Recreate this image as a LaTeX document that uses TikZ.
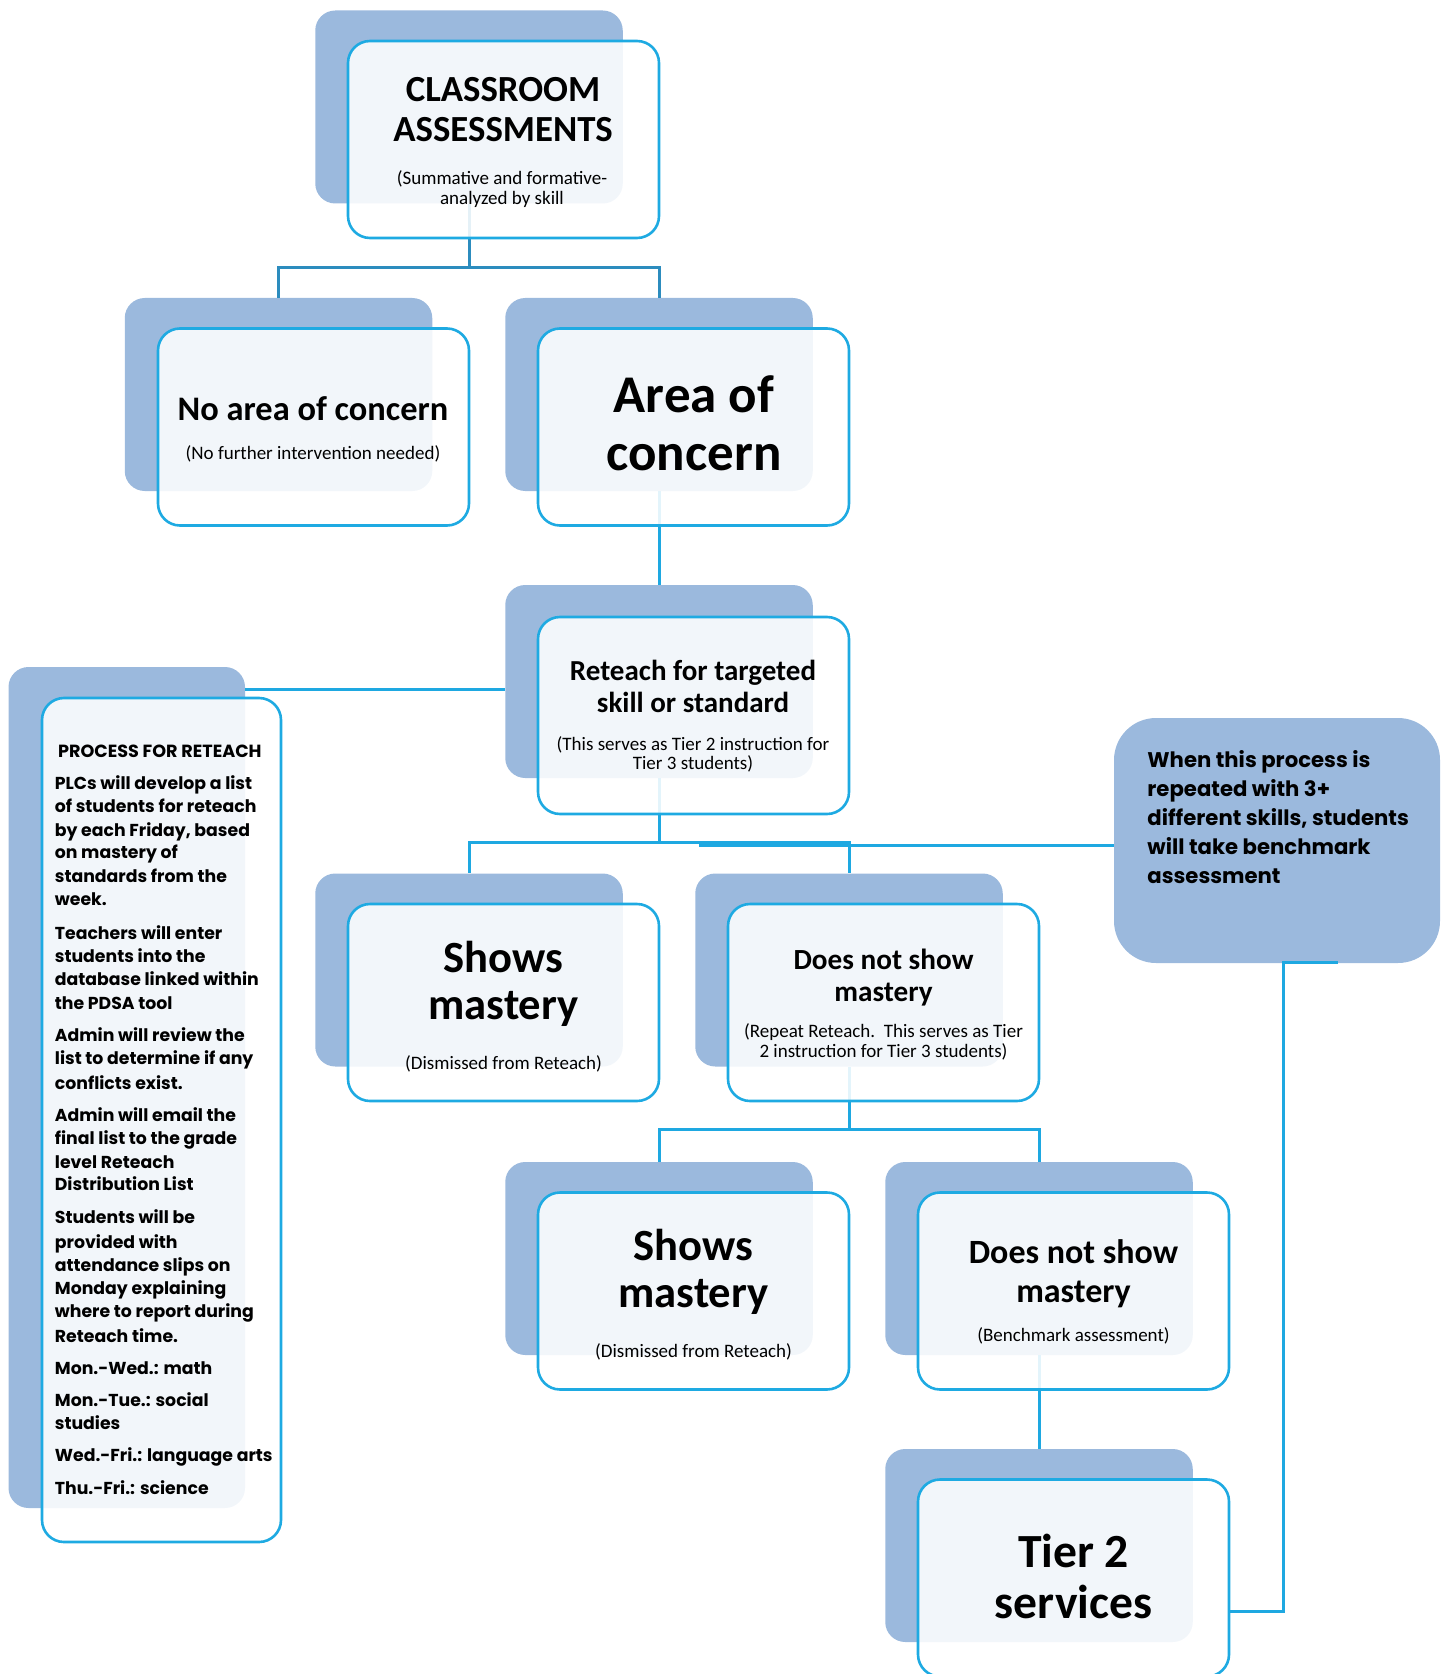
\documentclass[tikz,border=0pt]{standalone}
\usepackage{fontspec}
\newfontfamily\carl{Carlito}
\newfontfamily\goth{Poppins}
\definecolor{backblue}{RGB}{155,185,221}
\definecolor{frontblue}{RGB}{30,170,226}
\definecolor{linedark}{RGB}{44,140,190}
\definecolor{linebright}{RGB}{30,168,225}
\begin{document}
\begin{tikzpicture}[x=0.5pt,y=-0.5pt,
  backbox/.style={rectangle, rounded corners=10pt, fill=backblue, minimum width=153.75pt, minimum height=96.5pt, inner sep=0pt},
  frontbox/.style={rectangle, rounded corners=11pt, fill=white, fill opacity=0.88, draw=frontblue, line width=1.3pt, minimum width=155.5pt, minimum height=98.5pt, inner sep=0pt},
  conn/.style={draw=linebright, line width=1.5pt},
  conndark/.style={draw=linedark, line width=1.5pt},
  lbl/.style={anchor=base, inner sep=0pt, font=\carl\bfseries\fontsize{#1}{#1}\selectfont},
  sub/.style={anchor=base, inner sep=0pt, font=\carl\fontsize{9.5}{11}\selectfont},
  paneltext/.style={anchor=base west, inner sep=0pt, font=\goth\bfseries\fontsize{8.65}{10}\selectfont},
  panelhead/.style={anchor=base west, inner sep=0pt, font=\goth\bfseries\fontsize{8.8}{10}\selectfont},
  righttext/.style={anchor=base west, inner sep=0pt, font=\goth\bfseries\fontsize{10.6}{12}\selectfont}]
\useasboundingbox (0,0) rectangle (1448,1674);

% back boxes
\node[backbox] (caB) at (469,107) {};
\node[backbox] (naB) at (278.5,394.5) {};
\node[backbox] (arB) at (659,394.5) {};
\node[backbox] (reB) at (659,681.5) {};
\node[backbox, minimum width=118.25pt, minimum height=420.5pt] (prB) at (126.75,1087.5) {};
\node[backbox] (sm1B) at (469,970) {};
\node[backbox] (dn1B) at (849,970) {};
\node[backbox] (sm2B) at (659,1258.5) {};
\node[backbox] (dn2B) at (1039,1258.5) {};
\node[backbox] (t2B) at (1039,1545.5) {};
\node[backbox, rounded corners=21pt, minimum width=163pt, minimum height=122.5pt] (rbox) at (1277,840.5) {};

% connectors
\draw[conndark] (caB.south) -- ++(0,64) -| (naB.north);
\draw[conndark] (caB.south) -- ++(0,64) -| (arB.north);
\draw[conn] (arB.south) -- (reB.north);
\coordinate (pc) at (245,689);
\draw[conn] (pc) -- (pc -| reB.west);
\draw[conn] (reB.south) -- ++(0,64) -| (sm1B.north);
\draw[conn] (reB.south) -- ++(0,64) -| (dn1B.north);
\coordinate (rc) at (699,845);
\draw[conn] (rc) -- (rc -| rbox.west);
\draw[conn] (dn1B.south) -- ++(0,63) -| (sm2B.north);
\draw[conn] (dn1B.south) -- ++(0,63) -| (dn2B.north);
\draw[conn] (dn2B.south) -- (t2B.north);
\coordinate (rb1) at (1338,962);
\coordinate (t2e) at (1229,1611);
\draw[conn] (rb1) -- (1283,962) |- (t2e);

% front boxes
\node[frontbox] (caF) at (503.5,139.5) {};
\node[frontbox] (naF) at (313.5,427) {};
\node[frontbox] (arF) at (693.5,427) {};
\node[frontbox] (reF) at (693.5,715.5) {};
\node[frontbox, minimum width=119.5pt, minimum height=422pt] (prF) at (161.5,1120) {};
\node[frontbox] (sm1F) at (503.5,1002.5) {};
\node[frontbox] (dn1F) at (883.5,1002.5) {};
\node[frontbox] (sm2F) at (693.5,1291) {};
\node[frontbox] (dn2F) at (1073.5,1291) {};
\node[frontbox] (t2F) at (1073.5,1578) {};

% texts
\node[lbl=18.4] (ca1) at (503,102) {CLASSROOM};
\node[lbl=18.4] (ca2) at (503,142) {ASSESSMENTS};
\node[sub] (ca3) at (502,185) {(Summative and formative-};
\node[sub] (ca4) at (502,205) {analyzed by skill};

\node[lbl=17.2] (na1) at (313,420) {No area of concern};
\node[sub] (na2) at (313,459) {(No further intervention needed)};

\node[lbl=26.5] (ar1) at (694,412) {Area of};
\node[lbl=26.5] (ar2) at (694,470) {concern};

\node[lbl=14.5] (re1) at (693,680) {Reteach for targeted};
\node[lbl=14.5] (re2) at (693,712) {skill or standard};
\node[sub] (re3) at (693,750) {(This serves as Tier 2 instruction for};
\node[sub] (re4) at (693,769) {Tier 3 students)};

\node[lbl=22.3] (sm11) at (503.5,972) {Shows};
\node[lbl=22.3] (sm12) at (503.5,1019) {mastery};
\node[sub] (sm13) at (503.5,1069) {(Dismissed from Reteach)};

\node[lbl=14.6] (dn11) at (883.5,969) {Does not show};
\node[lbl=14.6] (dn12) at (883.5,1001) {mastery};
\node[sub] (dn13) at (883.5,1037) {(Repeat Reteach.\ \ This serves as Tier};
\node[sub] (dn14) at (883.5,1057) {2 instruction for Tier 3 students)};

\node[lbl=22.3] (sm21) at (693.5,1260.5) {Shows};
\node[lbl=22.3] (sm22) at (693.5,1307.5) {mastery};
\node[sub] (sm23) at (693.5,1357.5) {(Dismissed from Reteach)};

\node[lbl=17] (dn21) at (1073.5,1263) {Does not show};
\node[lbl=17] (dn22) at (1073.5,1302) {mastery};
\node[sub] (dn23) at (1073.5,1341) {(Benchmark assessment)};

\node[lbl=23.8] (t21) at (1073.5,1567) {Tier 2};
\node[lbl=23.8] (t22) at (1073.5,1618) {services};

% right box text
\foreach \t/\y [count=\i] in {{When this process is}/767, {repeated with 3+}/796, {different skills, students}/825, {will take benchmark}/854, {assessment}/883}
  \node[righttext] (rt\i) at (1147,\y) {\t};

% panel text
\node[panelhead] (ph) at (57.7,757) {PROCESS FOR RETEACH};
\foreach \t/\y [count=\i] in {
  {PLCs will develop a list}/789,
  {of students for reteach}/812,
  {by each Friday, based}/836,
  {on mastery of}/858,
  {standards from the}/882,
  {week.}/905,
  {Teachers will enter}/939,
  {students into the}/962,
  {database linked within}/985,
  {the PDSA tool}/1009,
  {Admin will review the}/1041,
  {list to determine if any}/1064,
  {conflicts exist.}/1089,
  {Admin will email the}/1121,
  {final list to the grade}/1144,
  {level Reteach}/1168,
  {Distribution List}/1190,
  {Students will be}/1223,
  {provided with}/1248,
  {attendance slips on}/1271,
  {Monday explaining}/1294,
  {where to report during}/1317,
  {Reteach time.}/1342,
  {Mon.-Wed.: math}/1374,
  {Mon.-Tue.: social}/1406,
  {studies}/1429,
  {Wed.-Fri.: language arts}/1461,
  {Thu.-Fri.: science}/1494}
  \node[paneltext] (pl\i) at (54.5,\y) {\t};
\end{tikzpicture}
\end{document}
